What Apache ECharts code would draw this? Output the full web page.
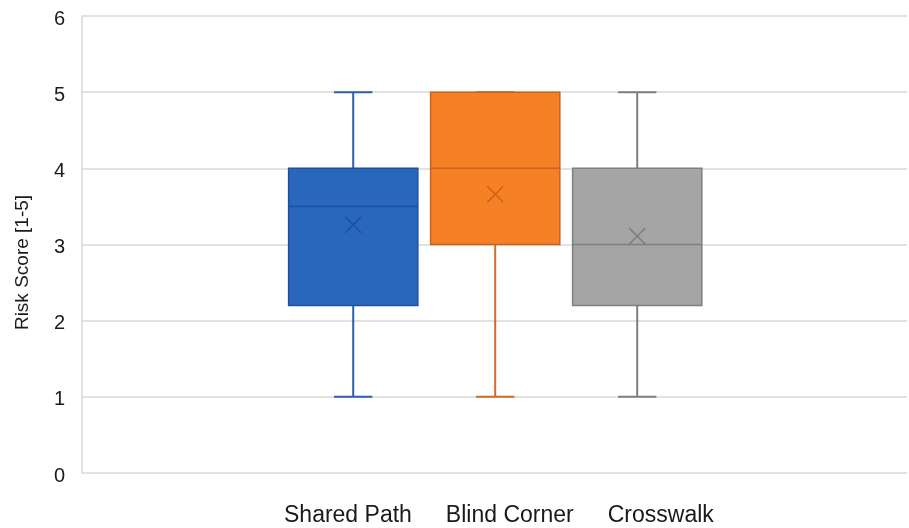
<!DOCTYPE html>
<html>
<head>
<meta charset="utf-8">
<script src="https://cdn.jsdelivr.net/npm/echarts@6/dist/echarts.min.js"></script>
<style>
  html, body { margin: 0; padding: 0; background: #ffffff; }
  #chart { width: 909px; height: 528px; }
</style>
</head>
<body>
<div id="chart"></div>
<script>
// Five-number summaries and means of the risk scores for each location type
const seriesNames = ['Shared Path', 'Blind Corner', 'Crosswalk'];
const minValues = [1, 1, 1];
const q1Values = [2.2, 3, 2.2];
const medianValues = [3.5, 4, 3];
const q3Values = [4, 5, 4];
const maxValues = [5, 5, 5];
const meanValues = [3.26, 3.66, 3.11];
const yTicks = [0, 1, 2, 3, 4, 5, 6];

// Visual styling per series
const fillColors = ['#2967bd', '#f58025', '#a5a5a5'];
const edgeColors = ['#1f4f9c', '#c9621c', '#7f7f7f'];
const whiskerColors = ['#2f5fad', '#d2692c', '#7f7f7f'];

const BOX_WIDTH = 0.91;   // in x-axis units
const CAP_WIDTH = 0.27;
const MEAN_HALF = 8;      // px

function renderBox(params, api) {
  const i = params.seriesIndex;
  const x = api.value(0);
  const pMin = api.coord([x, api.value(1)]);
  const pQ1 = api.coord([x, api.value(2)]);
  const pMed = api.coord([x, api.value(3)]);
  const pQ3 = api.coord([x, api.value(4)]);
  const pMax = api.coord([x, api.value(5)]);
  const pMean = api.coord([x, api.value(6)]);
  const halfW = api.size([BOX_WIDTH, 0])[0] / 2;
  const halfCap = api.size([CAP_WIDTH, 0])[0] / 2;
  const cx = pMin[0];
  const wStyle = { stroke: whiskerColors[i], lineWidth: 2 };
  const children = [
    { type: 'line', shape: { x1: cx, y1: pMin[1], x2: cx, y2: pQ1[1] }, style: wStyle },
    { type: 'line', shape: { x1: cx, y1: pQ3[1], x2: cx, y2: pMax[1] }, style: wStyle },
    { type: 'line', shape: { x1: cx - halfCap, y1: pMin[1], x2: cx + halfCap, y2: pMin[1] }, style: wStyle },
    { type: 'line', shape: { x1: cx - halfCap, y1: pMax[1], x2: cx + halfCap, y2: pMax[1] }, style: wStyle },
    {
      type: 'rect',
      shape: { x: cx - halfW, y: pQ3[1], width: halfW * 2, height: pQ1[1] - pQ3[1] },
      style: { fill: fillColors[i], stroke: edgeColors[i], lineWidth: 1.5 }
    },
    { type: 'line', shape: { x1: cx - halfW, y1: pMed[1], x2: cx + halfW, y2: pMed[1] },
      style: { stroke: edgeColors[i], lineWidth: 1.5 } },
    { type: 'line', shape: { x1: cx - MEAN_HALF, y1: pMean[1] - MEAN_HALF, x2: cx + MEAN_HALF, y2: pMean[1] + MEAN_HALF },
      style: { stroke: edgeColors[i], lineWidth: 1.5 } },
    { type: 'line', shape: { x1: cx - MEAN_HALF, y1: pMean[1] + MEAN_HALF, x2: cx + MEAN_HALF, y2: pMean[1] - MEAN_HALF },
      style: { stroke: edgeColors[i], lineWidth: 1.5 } }
  ];
  return { type: 'group', children: children };
}

const series = seriesNames.map(function (name, i) {
  return {
    name: name,
    type: 'custom',
    renderItem: renderBox,
    itemStyle: { color: fillColors[i] },
    encode: { x: 0, y: [1, 2, 3, 4, 5, 6] },
    data: [[i, minValues[i], q1Values[i], medianValues[i], q3Values[i], maxValues[i], meanValues[i]]]
  };
});

const chart = echarts.init(document.getElementById('chart'), null, { renderer: 'canvas' });
chart.setOption({
  animation: false,
  backgroundColor: '#ffffff',
  grid: { left: 82, right: 2, top: 16, bottom: 55, containLabel: false },
  legend: {
    data: seriesNames,
    top: 499,
    left: 274,
    icon: 'rect',
    itemWidth: 0,
    itemHeight: 0,
    itemGap: 29,
    textStyle: { fontFamily: 'Liberation Sans, Arial, sans-serif', fontSize: 23, color: '#1a1a1a' }
  },
  xAxis: {
    type: 'value',
    min: -1.91,
    max: 3.9,
    show: false
  },
  yAxis: {
    type: 'value',
    min: yTicks[0],
    max: yTicks[yTicks.length - 1],
    interval: 1,
    name: 'Risk Score [1-5]',
    nameLocation: 'middle',
    nameGap: 50,
    nameTextStyle: {
      fontFamily: 'Liberation Sans, Arial, sans-serif',
      fontSize: 19,
      color: '#1a1a1a',
      padding: [0, 36, 0, 0]
    },
    axisLine: { show: true, onZero: false, lineStyle: { color: '#d9d9d9', width: 1.5 } },
    axisTick: { show: false },
    axisLabel: {
      margin: 17,
      verticalAlign: 'top',
      lineHeight: 6,
      fontFamily: 'Liberation Sans, Arial, sans-serif',
      fontSize: 20,
      color: '#1a1a1a'
    },
    splitLine: { show: true, lineStyle: { color: '#d9d9d9', width: 1.5 } }
  },
  series: series
});
</script>
</body>
</html>
